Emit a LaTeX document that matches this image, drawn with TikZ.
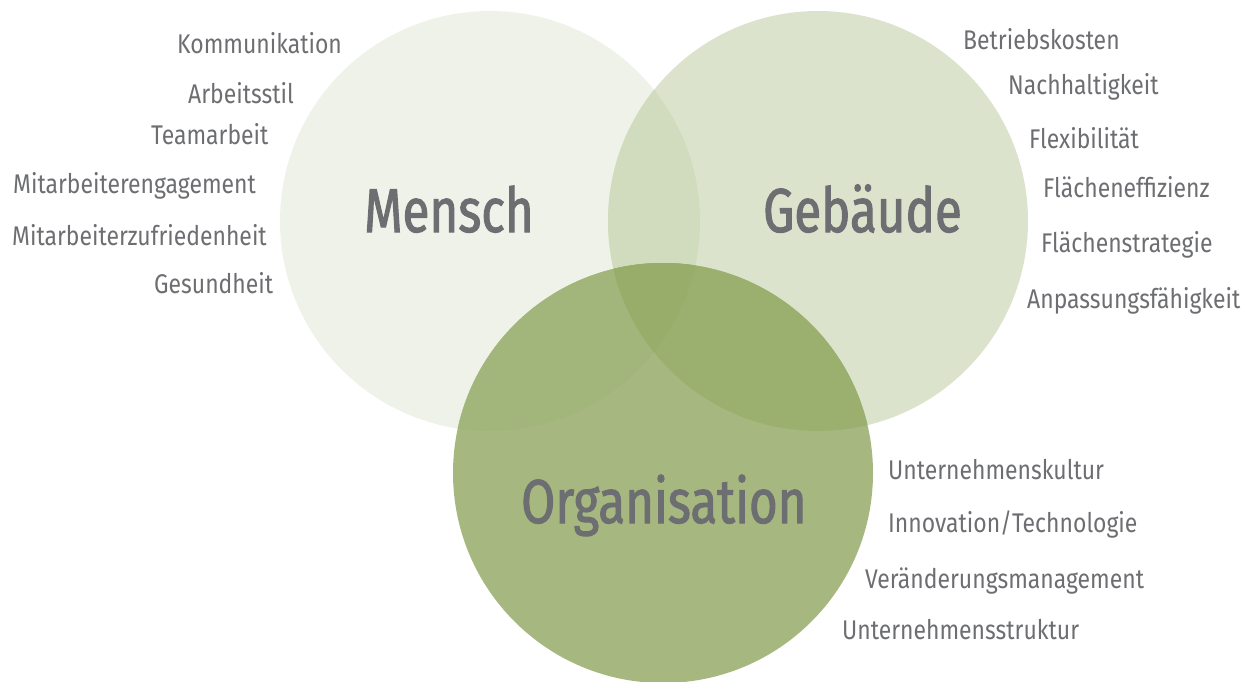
\documentclass[tikz,border=0pt]{standalone}
\usepackage{fontspec}
\newfontfamily\lblfont[FakeStretch=0.85]{Fira Sans}
\newfontfamily\headfont[FakeStretch=0.795,FakeBold=1.6]{Fira Sans}
\definecolor{txt}{HTML}{6D6E71}
\definecolor{cM}{HTML}{EFF2E8}
\definecolor{cG}{HTML}{DCE3CC}
\definecolor{cMG}{HTML}{D1DCBE}
\definecolor{cO}{HTML}{A6B880}
\definecolor{cOM}{HTML}{A2B57A}
\definecolor{cOG}{HTML}{9BB06E}
\definecolor{cOMG}{HTML}{98AD6A}
\tikzset{
  lbl/.style={anchor=base west, inner sep=0pt, text=txt, font=\lblfont\fontsize{27}{30}\selectfont},
  head/.style={anchor=base west, inner sep=0pt, text=txt, font=\headfont\fontsize{62}{70}\selectfont},
}
\def\Mc{(490,221) circle[radius=210pt]}
\def\Gc{(818,221) circle[radius=210pt]}
\def\Oc{(663,473) circle[radius=210pt]}
\begin{document}
\begin{tikzpicture}[x=1pt,y=-1pt]
\useasboundingbox (0,0) rectangle (1254,681);
\fill[cM] \Mc;
\fill[cG] \Gc;
\begin{scope}\clip \Mc; \fill[cMG] \Gc; \end{scope}
\fill[cO] \Oc;
\begin{scope}\clip \Oc; \fill[cOM] \Mc; \end{scope}
\begin{scope}\clip \Oc; \fill[cOG] \Gc; \end{scope}
\begin{scope}\clip \Oc; \clip \Mc; \fill[cOMG] \Gc; \end{scope}

\node[head] (mensch) at (364,232) {Mensch};
\node[head] (gebaeude) at (763,232) {Gebäude};
\node[head] (org) at (521,523) {Organisation};

\node[lbl] (m1) at (177,53) {Kommunikation};
\node[lbl] (m2) at (188,103) {Arbeitsstil};
\node[lbl] (m3) at (151,144) {Teamarbeit};
\node[lbl] (m4) at (13,193) {Mitarbeiterengagement};
\node[lbl] (m5) at (12,245) {Mitarbeiterzufriedenheit};
\node[lbl] (m6) at (154,293) {Gesundheit};

\node[lbl] (g1) at (963,49) {Betriebskosten};
\node[lbl] (g2) at (1008,94) {Nachhaltigkeit};
\node[lbl] (g3) at (1029,148) {Flexibilität};
\node[lbl] (g4) at (1043,197) {Flächeneffizienz};
\node[lbl] (g5) at (1041,252) {Flächenstrategie};
\node[lbl] (g6) at (1027,308) {Anpassungsfähigkeit};

\node[lbl] (o1) at (888,479) {Unternehmenskultur};
\node[lbl] (o2) at (888,532) {Innovation/Technologie};
\node[lbl] (o3) at (865,588) {Veränderungsmanagement};
\node[lbl] (o4) at (842,639) {Unternehmensstruktur};
\end{tikzpicture}
\end{document}
